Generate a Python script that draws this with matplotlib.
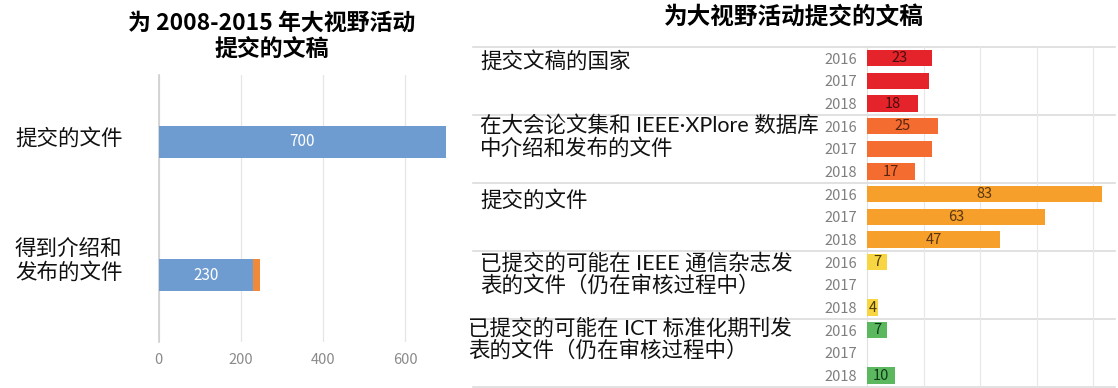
import matplotlib
matplotlib.use("Agg")
import matplotlib.pyplot as plt

plt.rcParams['font.family'] = ['Noto Sans CJK SC', 'DejaVu Sans']
label_family = ['Lato', 'Noto Sans CJK SC', 'DejaVu Sans']

# left chart: 2008-2015
left_categories = ["提交的文件", "得到介绍和\n发布的文件"]
left_main = [700, 230]
left_extra = [0, 17]

# right chart: 2016-2018 by category
years = ["2016", "2017", "2018"]
groups = [
    "提交文稿的国家",
    "在大会论文集和 IEEE·XPlore 数据库\n中介绍和发布的文件",
    "提交的文件",
    "已提交的可能在 IEEE 通信杂志发\n表的文件（仍在审核过程中）",
    "已提交的可能在 ICT 标准化期刊发\n表的文件（仍在审核过程中）",
]
group_values = [
    [23, 22, 18],
    [25, 23, 17],
    [83, 63, 47],
    [7, 0, 4],
    [7, 0, 10],
]
shown_labels = [
    [23, None, 18],
    [25, None, 17],
    [83, 63, 47],
    [7, None, 4],
    [7, None, 10],
]
group_colors = ["#e5232b", "#f46c2f", "#f6a02b", "#f7d543", "#5cb85f"]
label_colors = ["#4a0c0c", "#5a2410", "#5a3510", "#4a3a00", "#0e3a18"]

fig = plt.figure(figsize=(11.18, 3.88), dpi=100)

# ---- left chart ----
ax1 = fig.add_axes([0.142, 0.1186, 0.2588, 0.6884])
y1 = list(range(len(left_categories)))
ax1.barh(y1, left_main, height=0.24, color="#6e9bd0", zorder=3)
ax1.barh(y1, left_extra, left=left_main, height=0.24, color="#f08a3a", zorder=3)
for y, v in zip(y1, left_main):
    ax1.text(v / 2, y, str(v), ha="center", va="center", color="white",
             fontsize=11, zorder=4)
ax1.set_xlim(0, 705)
ax1.set_ylim(1.5, -0.5)
ax1.set_xticks([0, 200, 400, 600])
ax1.set_yticks([])
ax1.tick_params(axis="x", length=0, pad=8, labelsize=10.5, labelcolor="#8a8a8a")
ax1.grid(axis="x", color="#e6e6e6", lw=0.9, zorder=0)
for s in ["top", "right", "bottom"]:
    ax1.spines[s].set_visible(False)
ax1.spines["left"].set_color("#cfcfcf")
ax1.spines["left"].set_linewidth(1.2)
label_shift = [-0.02, -0.11]
for y, lab, dy in zip(y1, left_categories, label_shift):
    ax1.text(-0.497, y + dy, lab, transform=ax1.get_yaxis_transform(),
             ha="left", va="center", fontsize=15.5, color="#111111",
             linespacing=1.1)

fig.text(0.243, 0.907, "为 2008-2015 年大视野活动\n提交的文稿", ha="center",
         va="center", fontsize=16.5, fontweight="bold", linespacing=1.15)

# ---- right chart ----
ax2 = fig.add_axes([0.7755, 0.0026, 0.2218, 0.8763])
rows = []
vals = []
colors = []
for g, values in enumerate(group_values):
    for i, v in enumerate(values):
        rows.append(g * 3 + i)
        vals.append(v)
        colors.append(group_colors[g])
ax2.barh(rows, vals, height=0.72, color=colors, zorder=3)
for g, labels in enumerate(shown_labels):
    for i, lab in enumerate(labels):
        if lab is None:
            continue
        ax2.text(lab / 2, g * 3 + i, str(lab), ha="center", va="center",
                 fontsize=10.5, color=label_colors[g], zorder=4)
ax2.set_xlim(0, 87.6)
ax2.set_ylim(14.5, -0.5)
ax2.set_xticks([20, 40, 60, 80])
ax2.set_xticklabels([])
ax2.set_yticks(rows)
ax2.set_yticklabels(years * len(groups))
ax2.tick_params(axis="both", length=0)
ax2.tick_params(axis="y", pad=7, labelsize=10.5, labelcolor="#7f7f7f")
ax2.grid(axis="x", color="#e8e8e8", lw=0.9, zorder=0)
for s in ["top", "right", "bottom"]:
    ax2.spines[s].set_visible(False)
ax2.spines["left"].set_color("#e0e0e0")

# group separators running under the labels
for b in [-0.5, 2.5, 5.5, 8.5, 11.5, 14.5]:
    ax2.plot([-1.589, 1.0], [b, b], transform=ax2.get_yaxis_transform(),
             color="#dcdcdc", lw=1.2, clip_on=False, zorder=1)

label_x = [-1.56, -1.56, -1.56, -1.56, -1.61]
label_top = [0.15, 0.02, 0.3, 0.08, -0.04]
for g, lab in enumerate(groups):
    ax2.text(label_x[g], g * 3 - 0.5 + label_top[g], lab,
             transform=ax2.get_yaxis_transform(), ha="left", va="top",
             fontsize=15.5, color="#111111", linespacing=1.1,
             family=label_family)

fig.text(0.71, 0.956, "为大视野活动提交的文稿", ha="center", va="center",
         fontsize=17, fontweight="bold")

fig.savefig("out.png", dpi=100)
